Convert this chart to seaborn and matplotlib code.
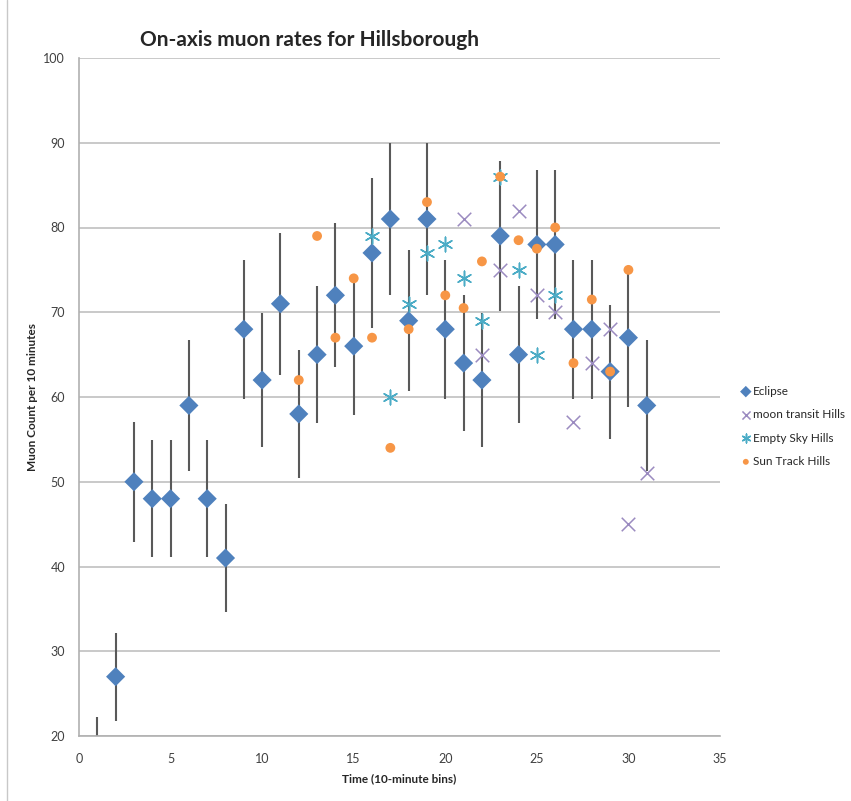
import matplotlib
matplotlib.use("Agg")
import matplotlib.pyplot as plt
import seaborn as sns
import pandas as pd

# Eclipse run (with Poisson-like error bars)
eclipse_t = [1, 2, 3, 4, 5, 6, 7, 8, 9, 10, 11, 12, 13, 14, 15, 16,
             17, 18, 19, 20, 21, 22, 23, 24, 25, 26, 27, 28, 29, 30, 31]
eclipse_n = [18, 27, 50, 48, 48, 59, 48, 41, 68, 62, 71, 58, 65, 72, 66, 77,
             81, 69, 81, 68, 64, 62, 79, 65, 78, 78, 68, 68, 63, 67, 59]
eclipse_err = [4.2, 5.2, 7.1, 6.9, 6.9, 7.7, 6.9, 6.4, 8.2, 7.9, 8.4, 7.6, 8.1, 8.5, 8.1, 8.8,
               9.0, 8.3, 9.0, 8.2, 8.0, 7.9, 8.9, 8.1, 8.8, 8.8, 8.2, 8.2, 7.9, 8.2, 7.7]

# moon transit Hills
moon_t = [21, 22, 23, 24, 25, 26, 27, 28, 29, 30, 31]
moon_n = [81, 65, 75, 82, 72, 70, 57, 64, 68, 45, 51]

# Empty Sky Hills
sky_t = [16, 17, 18, 19, 20, 21, 22, 23, 24, 25, 26]
sky_n = [79, 60, 71, 77, 78, 74, 69, 86, 75, 65, 72]

# Sun Track Hills
sun_t = [12, 13, 14, 15, 16, 17, 18, 19, 20, 21, 22, 23, 24, 25, 26, 27, 28, 29, 30]
sun_n = [62, 79, 67, 74, 67, 54, 68, 83, 72, 70.5, 76, 86, 78.5, 77.5, 80, 64, 71.5, 63, 75]

sns.set_style("white")
plt.rcParams['font.family'] = ['Lato', 'DejaVu Sans']

fig = plt.figure(figsize=(8.51, 8.01), dpi=100)
ax = fig.add_axes([79 / 851, 65 / 801, 641 / 851, 678 / 801])

ecl = pd.DataFrame({"t": eclipse_t, "n": eclipse_n, "err": eclipse_err})
ax.errorbar(ecl["t"], ecl["n"], yerr=ecl["err"], fmt="none",
            ecolor="#595959", elinewidth=1.5, capsize=0, zorder=2)
sns.scatterplot(data=ecl, x="t", y="n", marker="D", s=95, color="#4F81BD",
                edgecolor="none", label="Eclipse", ax=ax, zorder=3)
sns.scatterplot(x=moon_t, y=moon_n, marker="x", s=95, color="#9B8BC0",
                linewidth=1.1, label="moon transit Hills", ax=ax, zorder=4)
sns.scatterplot(x=sky_t, y=sky_n, marker=(6, 2, 0), s=110, color="#4BACC6",
                linewidth=1.1, label="Empty Sky Hills", ax=ax, zorder=4)
sns.scatterplot(x=sun_t, y=sun_n, marker="o", s=50, color="#F79646",
                edgecolor="none", label="Sun Track Hills", ax=ax, zorder=5)

ax.set_xlim(0, 35)
ax.set_ylim(20, 100)
ax.set_xticks(range(0, 36, 5))
ax.set_yticks(range(20, 101, 10))
ax.yaxis.grid(True, color="#C0C0C0", linewidth=1.2)
ax.xaxis.grid(False)
ax.set_axisbelow(True)
for side in ["top", "right"]:
    ax.spines[side].set_visible(False)
for side in ["left", "bottom"]:
    ax.spines[side].set_color("#B0B0B0")
    ax.spines[side].set_linewidth(1.2)
ax.tick_params(axis="both", direction="out", length=4, width=1, color="#B0B0B0",
               labelsize=9, labelcolor="#404040", pad=6)
ax.tick_params(axis="x", pad=8)

ax.set_xlabel("Time (10-minute bins)", fontsize=8.5, fontweight="bold", labelpad=6)
ax.set_ylabel("Muon Count per 10 minutes", fontsize=8.5, fontweight="bold", labelpad=4)

fig.text(310 / 851, 1 - 40 / 801, "On-axis muon rates for Hillsborough",
         ha="center", va="center", fontsize=15, fontweight="bold")

ax.legend(loc="upper left", bbox_to_anchor=(734 / 851, 1 - 381 / 801),
          bbox_transform=fig.transFigure, frameon=False, fontsize=8.5,
          markerscale=0.6, handletextpad=0.0, handlelength=1.2,
          labelspacing=1.05, borderaxespad=0)

# outer chart border on the left
fig.add_artist(plt.Line2D([7 / 851, 7 / 851], [0, 1], color="#C8C8C8", linewidth=1,
                          transform=fig.transFigure))

fig.savefig("out.png", dpi=100)
